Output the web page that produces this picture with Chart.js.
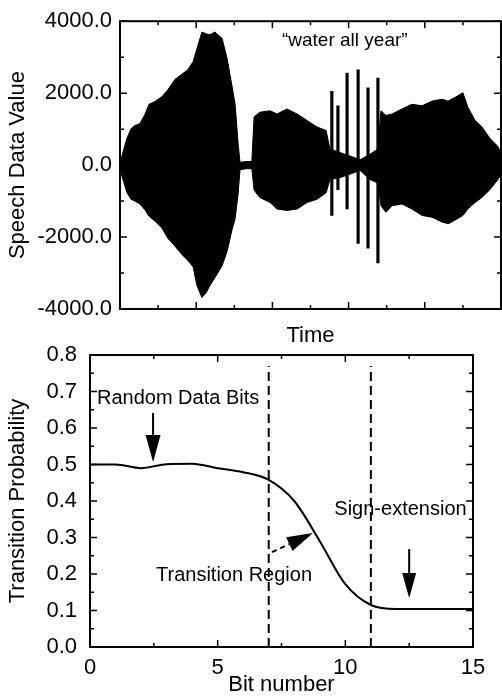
<!DOCTYPE html>
<html>
<head>
<meta charset="utf-8">
<script src="https://cdn.jsdelivr.net/npm/chart.js@4.4.1/dist/chart.umd.min.js"></script>
<style>
  html, body { margin: 0; padding: 0; background: #fff; }
  #wrap { position: relative; width: 502px; height: 696px; }
  canvas { position: absolute; left: 0; top: 0; }
</style>
</head>
<body>
<div id="wrap">
  <canvas id="speech" width="502" height="696"></canvas>
  <canvas id="bits" width="502" height="696"></canvas>
</div>
<script>
// --- top panel: speech waveform envelope (time in tick units 0..10) ---
const waveTime = [0.00,0.05,0.18,0.29,0.39,0.52,0.66,0.76,0.92,1.10,1.26,1.44,1.63,1.78,1.92,2.02,2.15,2.26,2.36,2.49,
  2.68,2.81,2.94,3.02,3.10,3.15,3.31,3.46,3.52,3.67,3.94,4.12,4.38,4.65,4.91,5.17,5.41,5.51,5.77,6.04,
  6.30,6.56,6.77,6.85,6.98,7.14,7.40,7.66,7.93,8.19,8.45,8.61,8.79,9.00,9.13,9.32,9.50,9.71,9.92,10.00];
const waveUpper = [0,250,740,1010,1100,1150,1420,1690,1770,1900,2100,2380,2530,2650,2880,3240,3700,3650,3620,3700,
  3520,2970,2200,1700,600,80,100,100,1340,1470,1510,1420,1560,1420,1240,1060,960,450,350,250,
  150,300,450,1510,1380,1420,1560,1690,1650,1780,1830,1780,1880,2010,1610,1240,1060,740,520,330];
const waveLower = [0,-300,-760,-950,-1000,-1080,-1250,-1420,-1560,-1750,-2040,-2250,-2490,-2650,-2830,-3350,-3680,-3550,-3350,-3130,
  -2800,-2400,-1800,-1500,-800,-130,-100,-100,-700,-900,-1040,-1220,-1260,-1220,-1040,-950,-770,-400,-350,-250,
  -150,-400,-500,-1130,-1310,-1130,-1080,-1220,-1400,-1450,-1580,-1630,-1530,-1400,-1220,-1040,-900,-680,-400,-270];
// isolated bursts in "all"
const burstTime = [5.56, 5.72, 5.96, 6.25, 6.51, 6.77];
const burstHigh = [2050, 1650, 2560, 2650, 2150, 2420];
const burstLow = [-1400, -680, -1220, -2180, -2310, -2720];
const speechTicks = [-4000, -2000, 0, 2000, 4000];

// --- bottom panel: transition probability per bit ---
const bitNumber = [0,1,2,3,4,5,6,7,8,9,10,11,12,13,14,15];
const transitionProb = [0.500,0.500,0.490,0.501,0.502,0.490,0.479,0.458,0.400,0.290,0.172,0.115,0.104,0.104,0.104,0.104];
const regionBounds = [7, 11];
const boundTop = 0.77;

Chart.defaults.font.family = '"Liberation Sans", Arial, sans-serif';
Chart.defaults.color = '#000';

// ticks pointing into the plot on all four sides, plus the frame
const innerTicks = {
  id: 'innerTicks',
  afterDraw(chart, args, o) {
    const {ctx, chartArea: a} = chart;
    const sx = chart.scales.x, sy = chart.scales.y;
    const isMajor = (v, m) => Math.abs(v / m - Math.round(v / m)) < 1e-6;
    ctx.save();
    ctx.strokeStyle = '#000';
    ctx.lineWidth = 1.5;
    ctx.beginPath();
    for (let i = 0; sx.min + i * o.xStep <= sx.max + 1e-9; i++) {
      const v = sx.min + i * o.xStep;
      const p = sx.getPixelForValue(v), len = isMajor(v, o.xMajor) ? 7 : 4;
      ctx.moveTo(p, a.bottom); ctx.lineTo(p, a.bottom - len);
      ctx.moveTo(p, a.top); ctx.lineTo(p, a.top + len);
    }
    for (let i = 0; sy.min + i * o.yStep <= sy.max + 1e-9; i++) {
      const v = sy.min + i * o.yStep;
      const p = sy.getPixelForValue(v), len = isMajor(v, o.yMajor) ? 7 : 4;
      ctx.moveTo(a.left, p); ctx.lineTo(a.left + len, p);
      ctx.moveTo(a.right, p); ctx.lineTo(a.right - len, p);
    }
    ctx.stroke();
    ctx.lineWidth = 2;
    ctx.strokeRect(a.left, a.top, a.right - a.left, a.bottom - a.top);
    ctx.restore();
  }
};

function arrow(ctx, x0, y0, x1, y1, head, half, dash) {
  const ang = Math.atan2(y1 - y0, x1 - x0);
  const bx = x1 - head * Math.cos(ang), by = y1 - head * Math.sin(ang);
  ctx.beginPath();
  ctx.setLineDash(dash || []);
  ctx.moveTo(x0, y0); ctx.lineTo(bx, by);
  ctx.stroke();
  ctx.setLineDash([]);
  ctx.beginPath();
  ctx.moveTo(x1, y1);
  ctx.lineTo(bx + half * Math.sin(ang), by - half * Math.cos(ang));
  ctx.lineTo(bx - half * Math.sin(ang), by + half * Math.cos(ang));
  ctx.closePath();
  ctx.fill();
}

const quoteLabel = {
  id: 'quoteLabel',
  afterDraw(chart) {
    const {ctx, scales: {x, y}} = chart;
    ctx.save();
    ctx.font = '19px "Liberation Sans", Arial, sans-serif';
    ctx.fillStyle = '#000';
    ctx.textAlign = 'center';
    ctx.textBaseline = 'middle';
    ctx.fillText('\u201cwater all year\u201d', x.getPixelForValue(5.9), y.getPixelForValue(3470));
    ctx.restore();
  }
};

const bitNotes = {
  id: 'bitNotes',
  beforeDatasetsDraw(chart) {
    const {ctx, scales: {x, y}} = chart;
    const X = v => x.getPixelForValue(v), Y = v => y.getPixelForValue(v);
    ctx.save();
    ctx.font = '20px "Liberation Sans", Arial, sans-serif';
    ctx.fillStyle = '#000';
    ctx.strokeStyle = '#000';
    ctx.lineWidth = 2;
    ctx.textAlign = 'center';
    ctx.textBaseline = 'middle';
    ctx.fillText('Random Data Bits', X(3.45), Y(0.682));
    ctx.fillText('Sign-extension', X(12.16), Y(0.378));
    ctx.fillText('Transition Region', X(5.64), Y(0.197));
    arrow(ctx, X(2.47), Y(0.641), X(2.47), Y(0.507), 27, 7.5);
    arrow(ctx, X(12.5), Y(0.268), X(12.5), Y(0.134), 25, 7);
    arrow(ctx, X(7.13), Y(0.26), X(8.73), Y(0.312), 26, 7.5, [5, 4]);
    ctx.restore();
  }
};

const axisFont = {size: 22, lineHeight: 1};

new Chart(document.getElementById('speech'), {
  type: 'line',
  data: {
    datasets: [
      {
        data: waveTime.map((t, i) => ({x: t, y: waveUpper[i]})),
        borderColor: '#000', backgroundColor: '#000', borderWidth: 1,
        pointRadius: 0, fill: '+1', tension: 0
      },
      {
        data: waveTime.map((t, i) => ({x: t, y: waveLower[i]})),
        borderColor: '#000', borderWidth: 1, pointRadius: 0, fill: false, tension: 0
      },
      {
        type: 'bar',
        data: burstTime.map((t, i) => ({x: t, y: [burstLow[i], burstHigh[i]]})),
        backgroundColor: '#000', barThickness: 2.5
      }
    ]
  },
  options: {
    responsive: false,
    animation: false,
    layout: {padding: {top: 15, right: 1, bottom: 349, left: 0}},
    plugins: {
      legend: {display: false},
      tooltip: {enabled: false},
      innerTicks: {xStep: 1, xMajor: 2, yStep: 1000, yMajor: 2000}
    },
    scales: {
      x: {
        type: 'linear', min: 0, max: 10, offset: false,
        grid: {display: false, drawTicks: false, offset: false}, border: {display: false},
        ticks: {display: false},
        title: {display: true, text: 'Time', font: axisFont, padding: 0},
        afterFit(s) { s.height = 38; }
      },
      y: {
        min: -4000, max: 4000,
        afterBuildTicks(s) { s.ticks = speechTicks.map(v => ({value: v})); },
        ticks: {callback: v => v.toFixed(1), padding: 8, font: {size: 22}},
        grid: {display: false, drawTicks: false}, border: {display: false},
        title: {display: true, text: 'Speech Data Value', font: axisFont, padding: {top: 7, bottom: 0}},
        afterFit(s) { s.width = 120; }
      }
    }
  },
  plugins: [innerTicks, quoteLabel]
});

new Chart(document.getElementById('bits'), {
  type: 'line',
  data: {
    datasets: [
      {
        data: bitNumber.map((b, i) => ({x: b, y: transitionProb[i]})),
        borderColor: '#000', borderWidth: 2, pointRadius: 0, fill: false,
        cubicInterpolationMode: 'monotone'
      },
      ...regionBounds.map(b => ({
        data: [{x: b, y: 0}, {x: b, y: boundTop}],
        borderColor: '#000', borderWidth: 2, borderDash: [9, 5], pointRadius: 0, fill: false
      }))
    ]
  },
  options: {
    responsive: false,
    animation: false,
    layout: {padding: {top: 355, right: 29, bottom: 0, left: 0}},
    plugins: {
      legend: {display: false},
      tooltip: {enabled: false},
      innerTicks: {xStep: 2.5, xMajor: 5, yStep: 0.05, yMajor: 0.1}
    },
    scales: {
      x: {
        type: 'linear', min: 0, max: 15,
        ticks: {stepSize: 5, padding: 8, font: {size: 22}, maxRotation: 0},
        grid: {display: false, drawTicks: false}, border: {display: false},
        title: {display: true, text: 'Bit number', font: axisFont, padding: 0},
        afterFit(s) { s.height = 49; }
      },
      y: {
        min: 0, max: 0.8,
        ticks: {stepSize: 0.1, callback: v => v.toFixed(1), padding: 13, font: {size: 22}},
        grid: {display: false, drawTicks: false}, border: {display: false},
        title: {display: true, text: 'Transition Probability', font: axisFont, padding: {top: 7, bottom: 0}},
        afterFit(s) { s.width = 90; }
      }
    }
  },
  plugins: [innerTicks, bitNotes]
});
</script>
</body>
</html>
